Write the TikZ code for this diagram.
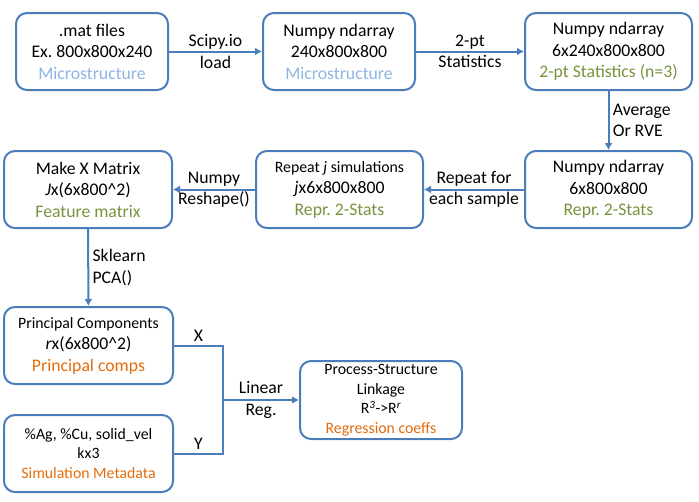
\documentclass[tikz,border=0pt]{standalone}
\usepackage{fontspec}
\setmainfont{Carlito}
\usetikzlibrary{arrows.meta}
\definecolor{boxblue}{HTML}{4A7EBB}
\definecolor{microblue}{HTML}{8EB4E3}
\definecolor{statgreen}{HTML}{77933C}
\definecolor{pcorange}{HTML}{E46C0A}
\newcommand{\smalltxt}{\fontsize{15.8}{19.5}\selectfont}
\frenchspacing
\begin{document}
\begin{tikzpicture}[
        x=1pt, y=-1pt,
        font=\fontsize{17.7}{21.5}\selectfont
    ]
    \tikzset{
        mybox/.style = {rectangle, rounded corners=11pt, draw=boxblue, line width=2pt, align=center, minimum height=77pt, inner sep=2pt},
        edgea/.style = {-{Latex[length=7pt,width=8pt]}, line width=2pt, draw=boxblue},
        edgel/.style = {-, line width=2pt, draw=boxblue},
        lbl/.style = {align=center},
    }
    \useasboundingbox (0,0) rectangle (699,501);
    \node[mybox, minimum width=152pt] at (92,51.5) (mat) {.mat files\\Ex. 800x800x240\\\textcolor{microblue}{Microstructure}};
    \node[mybox, minimum width=152pt] at (339,51.5) (npa) {Numpy ndarray\\240x800x800\\\textcolor{microblue}{Microstructure}};
    \node[mybox, minimum width=167pt] at (608.5,51.5) (tps) {Numpy ndarray\\6x240x800x800\\\textcolor{statgreen}{2-pt Statistics (n=3)}};
    \node[mybox, minimum width=167pt] at (608.5,189.5) (rep) {Numpy ndarray\\6x800x800\\\textcolor{statgreen}{Repr. 2-Stats}};
    \node[mybox, minimum width=167pt] at (339.5,189.5) (sim) {{\smalltxt Repeat \textit{j} simulations}\\\textit{j}x6x800x800\\\textcolor{statgreen}{Repr. 2-Stats}};
    \node[mybox, minimum width=168pt] at (88,189.5) (xmat) {Make X Matrix\\\textit{J}x(6x800\textasciicircum2)\\\textcolor{statgreen}{Feature matrix}};
    \node[mybox, minimum width=169pt] at (88.5,345.5) (pca) {{\smalltxt Principal Components}\\\textit{r}x(6x800\textasciicircum2)\\\textcolor{pcorange}{Principal comps}};
    \node[mybox, minimum width=169pt, font=\smalltxt] at (88.5,453.5) (meta) {\%Ag, \%Cu, solid\_vel\\kx3\\\textcolor{pcorange}{Simulation Metadata}};
    \node[mybox, minimum width=162pt, minimum height=78pt, font=\smalltxt] at (381,400) (ps) {Process-Structure\\Linkage\\R\textsuperscript{\textit{3}}->R\textsuperscript{\textit{r}}\\\textcolor{pcorange}{Regression coeffs}};
    \coordinate (lr) at (223,400);
    %
    \draw[edgea] (mat) -- node[lbl] {Scipy.io\\load} (npa);
    \draw[edgea] (npa) -- node[lbl] {2-pt\\Statistics} (tps);
    \draw[edgea] (tps) -- node[right, align=left] {Average\\Or RVE} (rep);
    \draw[edgea] (rep) -- node[lbl] {Repeat for\\each sample} (sim);
    \draw[edgea] (sim) -- node[lbl] {Numpy\\Reshape()} (xmat);
    \draw[edgea] (xmat) -- node[right, align=left] {Sklearn\\PCA()} (pca);
    %
    \draw[edgel] (pca.east) -| node[pos=0.25, above] {X} (lr) |- node[pos=0.75, above] {Y} (meta.east);
    \draw[edgea] (lr) -- node[lbl] {Linear\\Reg.} (ps);
\end{tikzpicture}
\end{document}
